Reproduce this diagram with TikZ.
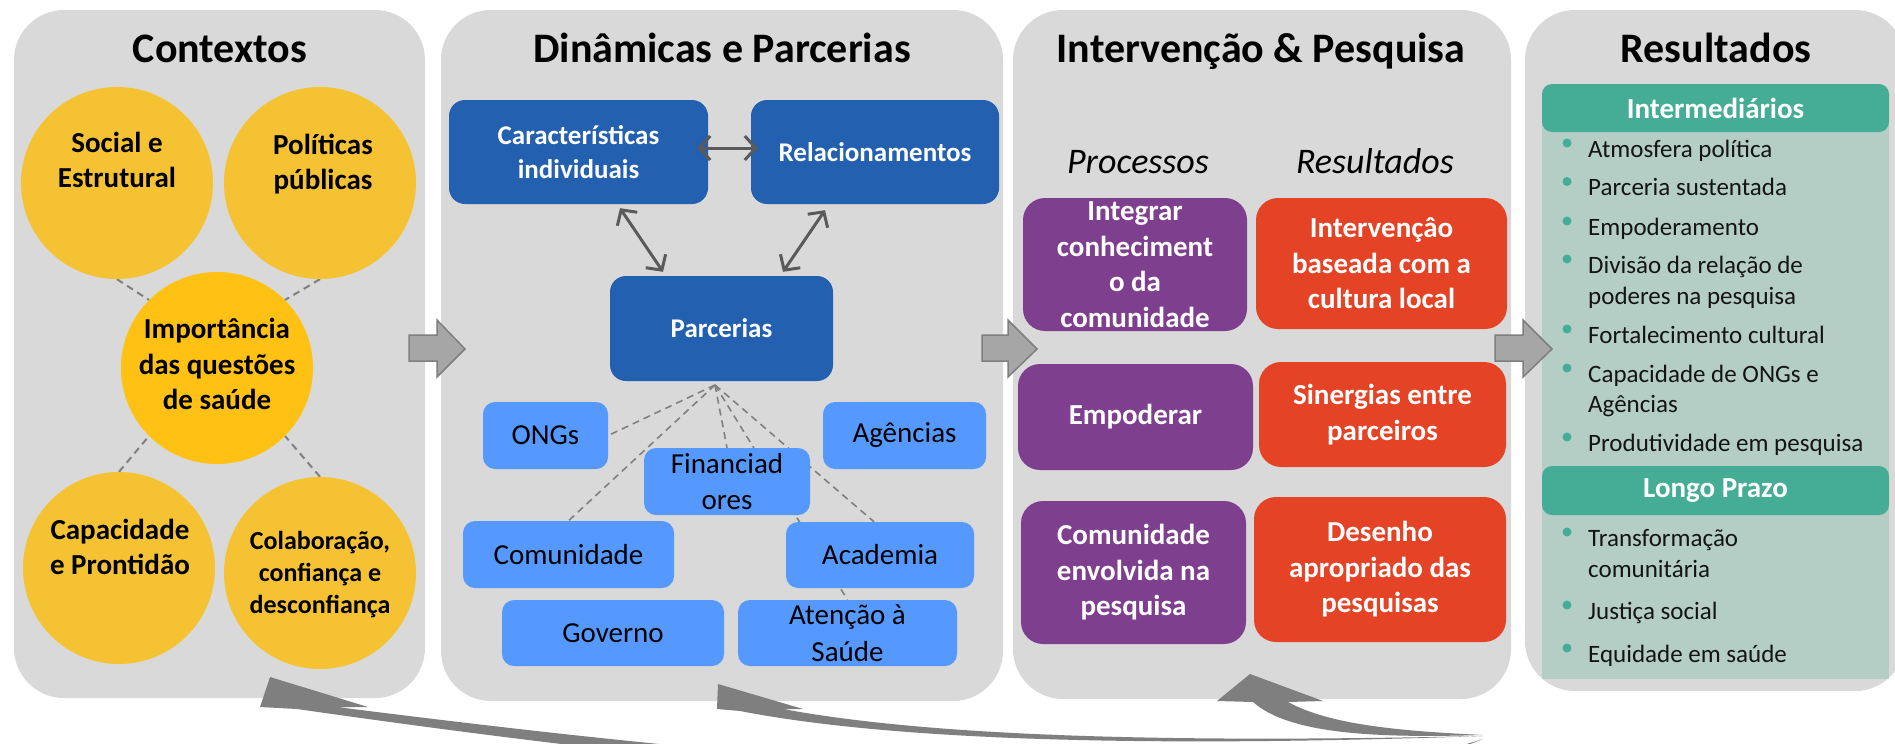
\documentclass[tikz,border=0pt]{standalone}
\usepackage{fontspec}
\setmainfont{Carlito}
\usetikzlibrary{arrows.meta,calc}
\pgfdeclarelayer{back}
\pgfdeclarelayer{mid}
\pgfsetlayers{back,mid,main}
\definecolor{panel}{HTML}{D9D9D9}
\definecolor{circY}{HTML}{F4C232}
\definecolor{circC}{HTML}{FFC114}
\definecolor{dblue}{HTML}{2360B0}
\definecolor{lblue}{HTML}{5599FF}
\definecolor{purp}{HTML}{7E3F8F}
\definecolor{redo}{HTML}{E44326}
\definecolor{tealh}{HTML}{45AD96}
\definecolor{tealb}{HTML}{B4CEC6}
\definecolor{arrowg}{HTML}{A6A6A6}
\definecolor{arrowd}{HTML}{7F7F7F}
\definecolor{dashg}{HTML}{808080}
\definecolor{darrow}{HTML}{5A5A5A}
\begin{document}
\begin{tikzpicture}[x=1pt,y=-1pt,
  pnl/.style={fill=panel, rounded corners=50pt},
  circ/.style={circle, fill=circY, minimum size=192pt, inner sep=0pt},
  circc/.style={circ, fill=circC},
  ctext/.style={align=center, inner sep=0pt, font=\fontsize{29}{35.5}\selectfont\bfseries},
  ttl/.style={anchor=base, inner sep=0pt, font=\fontsize{42}{50}\selectfont\bfseries},
  ital/.style={anchor=base, inner sep=0pt, font=\fontsize{36}{42}\selectfont\itshape},
  dbox/.style={rectangle, rounded corners=16pt, fill=dblue, text=white, align=center, inner sep=0pt, font=\fontsize{27}{34}\selectfont\bfseries},
  lbox/.style={rectangle, rounded corners=12pt, fill=lblue, text=black, align=center, inner sep=0pt, font=\fontsize{29}{36.5}\selectfont},
  pbox/.style={rectangle, rounded corners=22pt, fill=purp, text=white, align=center, inner sep=0pt, font=\fontsize{29}{35.5}\selectfont\bfseries},
  rbox/.style={pbox, fill=redo},
  hbox/.style={rectangle, rounded corners=10pt, fill=tealh, text=white, inner sep=0pt, font=\fontsize{29}{35}\selectfont\bfseries},
  item/.style={anchor=base west, inner sep=0pt, font=\fontsize{25}{30}\selectfont, text=black!92},
  dline/.style={draw=dashg, line width=2pt, dash pattern=on 7pt off 5pt},
  dbl/.style={draw=darrow, line width=3pt, {Straight Barb[length=11pt,width=24pt]}-{Straight Barb[length=11pt,width=24pt]}},
  blockarrow/.style={fill=arrowg, draw=arrowd, line width=1.5pt, line join=miter},
  curvarrow/.style={fill=arrowd},
  bullet/.style={fill=tealh}
]
\useasboundingbox (0,0) rectangle (1895,744);
\clip (0,0) rectangle (1895,744);

% panels
\begin{pgfonlayer}{back}
\fill[white] (0,0) rectangle (1895,744);
\path[pnl] (14,10) rectangle (425,698);
\path[pnl] (441,10) rectangle (1003,701);
\path[pnl] (1013,10) rectangle (1511,699);
\path[pnl] (1525,10) rectangle (1905,691);
\end{pgfonlayer}

% titles
\node[ttl] (t1) at (220,62) {Contextos};
\node[ttl] (t2) at (722,62) {Dinâmicas e Parcerias};
\node[ttl] (t3) at (1261,62) {Intervenção \& Pesquisa};
\node[ttl] (t4) at (1716,62) {Resultados};

% ---- panel 1 : contexts
\node[circ] (soc) at (117,183) {};
\node[circ] (pol) at (320,183) {};
\node[circc] (imp) at (217,368) {};
\node[circ] (cap) at (119,568) {};
\node[circ] (col) at (320,573) {};
\begin{pgfonlayer}{mid}
\draw[dline] (soc.south) -- (imp.north west);
\draw[dline] (pol.south) -- (imp.north east);
\draw[dline] (cap.north) -- (imp.south west);
\draw[dline] (col.north) -- (imp.south east);
\end{pgfonlayer}
\node[ctext] (soct) at (117,160) {Social e\\Estrutural};
\node[ctext] (polt) at (323,164) {Políticas\\públicas};
\node[ctext] (impt) at (217,364) {Importância\\das questões\\de saúde};
\node[ctext] (capt) at (120,547) {Capacidade\\e Prontidão};
\node[ctext, font=\fontsize{26}{32}\selectfont\bfseries] (colt) at (320,575) {Colaboração,\\confiança e\\desconfiança};

% ---- panel 2 : dynamics
\node[dbox, minimum width=259pt, minimum height=104pt] (car) at (578.5,152) {Características\\individuais};
\node[dbox, minimum width=248pt, minimum height=104pt] (rel) at (875,152) {Relacionamentos};
\node[dbox, minimum width=223pt, minimum height=105pt] (par) at (721.5,328.5) {Parcerias};
\coordinate (hub) at (715,385);
\node[lbox, minimum width=125pt, minimum height=67pt] (ongs) at (545.5,435.5) {ONGs};
\node[lbox, minimum width=163pt, minimum height=67pt] (age) at (904.5,435.5) {Agências};
\node[lbox, minimum width=166pt, minimum height=67pt] (fin) at (727,481.5) {Financiad\\ores};
\node[lbox, minimum width=211pt, minimum height=67pt] (com) at (568.5,554.5) {Comunidade};
\node[lbox, minimum width=188pt, minimum height=66pt] (aca) at (880,555) {Academia};
\node[lbox, minimum width=222pt, minimum height=66pt] (gov) at (613,633) {Governo};
\node[lbox, minimum width=219pt, minimum height=66pt] (ate) at (847.5,633) {Atenção à\\Saúde};
\begin{pgfonlayer}{mid}
\draw[dline, line width=1.6pt] (hub) -- (ongs.east);
\draw[dline, line width=1.6pt] (hub) -- (com.north);
\draw[dline, line width=1.6pt] (hub) -- (fin.north);
\draw[dline, line width=1.6pt] (hub) -- (ate.north);
\draw[dline, line width=1.6pt] (hub) -- ($(aca.north)+(-6,0)$);
\end{pgfonlayer}
\draw[dbl] ($(car.east)+(-11,-4)$) -- ($(rel.west)+(7,-4)$);
\draw[dbl] ($(car.south)+(41.5,4)$) -- ($(par.north)+(-58.5,-4)$);
\draw[dbl] ($(rel.south)+(-50,6)$) -- ($(par.north)+(61.5,-4)$);

% ---- panel 3 : intervention
\node[ital] (proc) at (1138,173) {Processos};
\node[ital] (resl) at (1375,173) {Resultados};
\node[pbox, minimum width=224pt, minimum height=133pt] (pa) at (1135,264.5) {Integrar\\conheciment\\o da\\comunidade};
\node[pbox, minimum width=235pt, minimum height=106pt] (pb) at (1135.5,417) {Empoderar};
\node[pbox, minimum width=225pt, minimum height=143pt] (pc) at (1133.5,572.5) {Comunidade\\envolvida na\\pesquisa};
\node[rbox, minimum width=251pt, minimum height=131pt] (ra) at (1381.5,263.5) {Intervençâo\\baseada com a\\cultura local};
\node[rbox, minimum width=247pt, minimum height=105pt] (rb) at (1382.5,414.5) {Sinergias entre\\parceiros};
\node[rbox, minimum width=252pt, minimum height=145pt] (rc) at (1380,569.5) {Desenho\\apropriado das\\pesquisas};

% ---- panel 4 : results
\fill[tealb] (1542,120) rectangle (1889,679);
\node[hbox, minimum width=347pt, minimum height=48pt] (h1) at (1715.5,108) {Intermediários};
\node[hbox, minimum width=347pt, minimum height=49pt] (h2) at (1715.5,490.5) {Longo Prazo};
\foreach \b/\n/\t in {157/i1/Atmosfera política, 195.5/i2/Parceria sustentada, 235/i3/Empoderamento, 273/i4/Divisão da relação de, 343/i6/Fortalecimento cultural, 382/i7/Capacidade de ONGs e, 451/i9/Produtividade em pesquisa, 546/j1/Transformação, 619/j3/Justiça social, 662/j4/Equidade em saúde}{
  \fill[bullet] (1567,\b-14) circle (4.5pt);
  \node[item] (\n) at (1588,\b) {\t};
}
\node[item] (i5) at (1588,304) {poderes na pesquisa};
\node[item] (i8) at (1588,412) {Agências};
\node[item] (j2) at (1588,577) {comunitária};

% ---- block arrows between panels
\foreach \bx/\hx/\tx in {409/437/465, 982/1008/1037, 1495/1523/1552}{
  \draw[blockarrow] (\bx,335) -- (\hx,335) -- (\hx,320) -- (\tx,349) -- (\hx,377) -- (\hx,361) -- (\bx,361) -- cycle;
}

% ---- curved feedback arrows
\fill[curvarrow] (270,677) -- (260,707) -- (297,709) .. controls (640,758) and (1250,835) .. (1483,739)
  .. controls (1250,815) and (660,748) .. (337,707) -- (368,707) -- cycle;
\fill[curvarrow] (718,684) -- (717,709) -- (740,711) .. controls (930,748) and (1250,744) .. (1483,736)
  .. controls (1250,741) and (960,742) .. (783,709) -- (803,709) -- cycle;
\fill[curvarrow] (1250,674) -- (1217,701) -- (1253,702) .. controls (1290,735) and (1380,738) .. (1483,735)
  .. controls (1400,731) and (1330,725) .. (1288,702) -- (1323,701) -- cycle;
\end{tikzpicture}
\end{document}
